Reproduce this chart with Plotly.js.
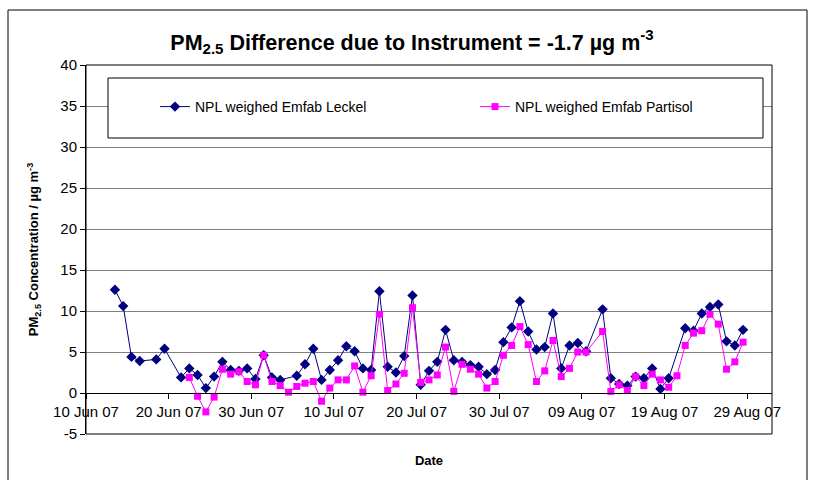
<!DOCTYPE html>
<html>
<head>
<meta charset="utf-8">
<script src="https://cdn.plot.ly/plotly-3.0.1.min.js"></script>
<style>
  body { margin: 0; background: #fff; }
  #chart { width: 814px; height: 480px; }
</style>
</head>
<body>
<div id="chart"></div>
<script>
// NPL weighed Emfab Leckel (daily, gaps where no sample)
const leckelDates = [
    '2007-06-13', '2007-06-14', '2007-06-15', '2007-06-16', '2007-06-18', '2007-06-19',
    '2007-06-21', '2007-06-22', '2007-06-23', '2007-06-24', '2007-06-25', '2007-06-26',
    '2007-06-27', '2007-06-28', '2007-06-29', '2007-06-30', '2007-07-01', '2007-07-02',
    '2007-07-03', '2007-07-05', '2007-07-06', '2007-07-07', '2007-07-08', '2007-07-09',
    '2007-07-10', '2007-07-11', '2007-07-12', '2007-07-13', '2007-07-14', '2007-07-15',
    '2007-07-16', '2007-07-17', '2007-07-18', '2007-07-19', '2007-07-20', '2007-07-21',
    '2007-07-22', '2007-07-23', '2007-07-24', '2007-07-25', '2007-07-26', '2007-07-27',
    '2007-07-28', '2007-07-29', '2007-07-30', '2007-07-31', '2007-08-01', '2007-08-02',
    '2007-08-03', '2007-08-04', '2007-08-05', '2007-08-06', '2007-08-07', '2007-08-08',
    '2007-08-09', '2007-08-11', '2007-08-12', '2007-08-13', '2007-08-14', '2007-08-15',
    '2007-08-16', '2007-08-17', '2007-08-18', '2007-08-19', '2007-08-21', '2007-08-22',
    '2007-08-23', '2007-08-24', '2007-08-25', '2007-08-26', '2007-08-27', '2007-08-28'
];
const leckelValues = [
    12.6, 10.6, 4.4, 3.9, 4.1, 5.4,
    1.9, 3.0, 2.2, 0.6, 2.0, 3.8,
    2.8, 2.7, 3.0, 1.7, 4.6, 1.9,
    1.6, 2.1, 3.5, 5.4, 1.6, 2.8,
    4.0, 5.7, 5.1, 3.0, 2.8, 12.4,
    3.2, 2.5, 4.5, 11.9, 1.0, 2.7,
    3.8, 7.7, 4.0, 3.8, 3.4, 3.2,
    2.3, 2.8, 6.2, 8.0, 11.2, 7.5,
    5.3, 5.6, 9.7, 3.0, 5.8, 6.1,
    5.1, 10.2, 1.8, 1.1, 0.9, 2.0,
    1.8, 3.0, 0.5, 1.8, 7.9, 7.6,
    9.7, 10.5, 10.8, 6.3, 5.8, 7.7
];

// NPL weighed Emfab Partisol
const partisolDates = [
    '2007-06-22', '2007-06-23', '2007-06-24', '2007-06-25', '2007-06-26', '2007-06-27',
    '2007-06-28', '2007-06-29', '2007-06-30', '2007-07-01', '2007-07-02', '2007-07-03',
    '2007-07-04', '2007-07-05', '2007-07-06', '2007-07-07', '2007-07-08', '2007-07-09',
    '2007-07-10', '2007-07-11', '2007-07-12', '2007-07-13', '2007-07-14', '2007-07-15',
    '2007-07-16', '2007-07-17', '2007-07-18', '2007-07-19', '2007-07-20', '2007-07-21',
    '2007-07-22', '2007-07-23', '2007-07-24', '2007-07-25', '2007-07-26', '2007-07-27',
    '2007-07-28', '2007-07-29', '2007-07-30', '2007-07-31', '2007-08-01', '2007-08-02',
    '2007-08-03', '2007-08-04', '2007-08-05', '2007-08-06', '2007-08-07', '2007-08-08',
    '2007-08-09', '2007-08-11', '2007-08-12', '2007-08-13', '2007-08-14', '2007-08-15',
    '2007-08-16', '2007-08-17', '2007-08-18', '2007-08-19', '2007-08-20', '2007-08-21',
    '2007-08-22', '2007-08-23', '2007-08-24', '2007-08-25', '2007-08-26', '2007-08-27',
    '2007-08-28'
];
const partisolValues = [
    1.9, -0.4, -2.3, -0.5, 2.9, 2.3,
    2.6, 1.4, 1.0, 4.6, 1.4, 0.9,
    0.1, 0.8, 1.2, 1.4, -1.0, 0.6,
    1.6, 1.6, 3.3, 0.1, 2.1, 9.6,
    0.3, 1.1, 2.4, 10.4, 1.3, 1.6,
    2.2, 5.6, 0.2, 3.5, 2.9, 2.3,
    0.6, 1.4, 4.6, 5.8, 8.1, 5.9,
    1.4, 2.7, 6.4, 2.0, 3.0, 5.0,
    5.0, 7.5, 0.2, 1.0, 0.3, 2.0,
    0.9, 2.3, 1.6, 0.7, 2.1, 5.8,
    7.3, 7.6, 9.6, 8.4, 2.9, 3.8,
    6.2
];

const yTicks = [-5, 0, 5, 10, 15, 20, 25, 30, 35, 40];
const yTickText = ['-5', '0', '5', '10', '15', '20', '25', '30', '35', '40'];

// Excel plots a daily point in the middle of its day slot
const midDay = d => d + ' 12:00';

const traces = [
    {
        x: leckelDates.map(midDay),
        y: leckelValues,
        type: 'scatter',
        mode: 'lines+markers',
        name: 'NPL weighed Emfab Leckel',
        line: { color: '#000080', width: 1 },
        marker: { symbol: 'diamond', size: 8, color: '#000080' },
    },
    {
        x: partisolDates.map(midDay),
        y: partisolValues,
        type: 'scatter',
        mode: 'lines+markers',
        name: 'NPL weighed Emfab Partisol',
        line: { color: '#ff00ff', width: 1 },
        marker: { symbol: 'square', size: 7, color: '#ff00ff' },
    }
];

const font = { family: 'Arial, "Liberation Sans", sans-serif', color: '#000' };

const layout = {
    width: 814,
    height: 480,
    margin: { l: 86, r: 42, t: 65, b: 46 },
    paper_bgcolor: '#fff',
    plot_bgcolor: '#fff',
    font: Object.assign({ size: 14 }, font),
    showlegend: true,
    title: {
        text: '<b>PM<sub>2.5</sub> Difference due to Instrument = -1.7 µg m<sup>-3</sup></b>',
        font: Object.assign({ size: 21.5 }, font),
        x: 412 / 814, xref: 'container', xanchor: 'center',
        y: 1 - 42 / 480, yanchor: 'middle',
    },
    xaxis: {
        type: 'date',
        range: ['2007-06-10', '2007-09-01'],
        tick0: '2007-06-10',
        dtick: 10 * 24 * 3600 * 1000,
        tickformat: '%d %b %y',
        ticks: 'outside',
        ticklen: 5,
        tickcolor: '#000',
        showgrid: false,
        showline: true,
        linecolor: '#000',
        linewidth: 1,
        anchor: 'free',
        position: 5 / 45,
        tickfont: Object.assign({ size: 15 }, font),
        title: { text: '<b>Date</b>', font: Object.assign({ size: 13 }, font), standoff: 36 },
        zeroline: false,
    },
    yaxis: {
        range: [-5, 40],
        tickvals: yTicks,
        ticktext: yTickText,
        ticks: 'outside',
        ticklen: 5,
        tickcolor: '#000',
        showgrid: true,
        gridcolor: '#808080',
        gridwidth: 1,
        showline: true,
        linecolor: '#000',
        zeroline: false,
        tickfont: Object.assign({ size: 15 }, font),
        title: {
            text: '<b>PM<sub>2.5</sub> Concentration / µg m<sup>-3</sup></b>',
            font: Object.assign({ size: 13 }, font),
            standoff: 18,
        },
    },
    legend: {
        orientation: 'h',
        x: (155 - 86) / 686,
        xanchor: 'left',
        y: 1 - (107 - 65) / 369,
        yanchor: 'middle',
        bgcolor: 'rgba(0,0,0,0)',
        borderwidth: 0,
        entrywidth: 275,
        entrywidthmode: 'pixels',
        font: Object.assign({ size: 14 }, font),
    },
    shapes: [
        // plot area border
        { type: 'rect', xref: 'paper', yref: 'paper', x0: 0, x1: 1, y0: 0, y1: 1,
          line: { color: '#000', width: 1 }, layer: 'above' },
        // legend box
        { type: 'rect', xref: 'paper', yref: 'paper',
          x0: (108 - 86) / 686, x1: (763 - 86) / 686,
          y0: 1 - (138 - 65) / 369, y1: 1 - (78 - 65) / 369,
          fillcolor: '#fff', line: { color: '#000', width: 1 }, layer: 'above' },
        // outer chart border
        { type: 'rect', xref: 'paper', yref: 'paper',
          x0: (8 - 86) / 686, x1: (807 - 86) / 686,
          y0: -(486 - 434) / 369, y1: 1 + (65 - 10) / 369,
          line: { color: '#000', width: 1 } },
    ],
};

Plotly.newPlot('chart', traces, layout, { staticPlot: true, displayModeBar: false });
</script>
</body>
</html>
